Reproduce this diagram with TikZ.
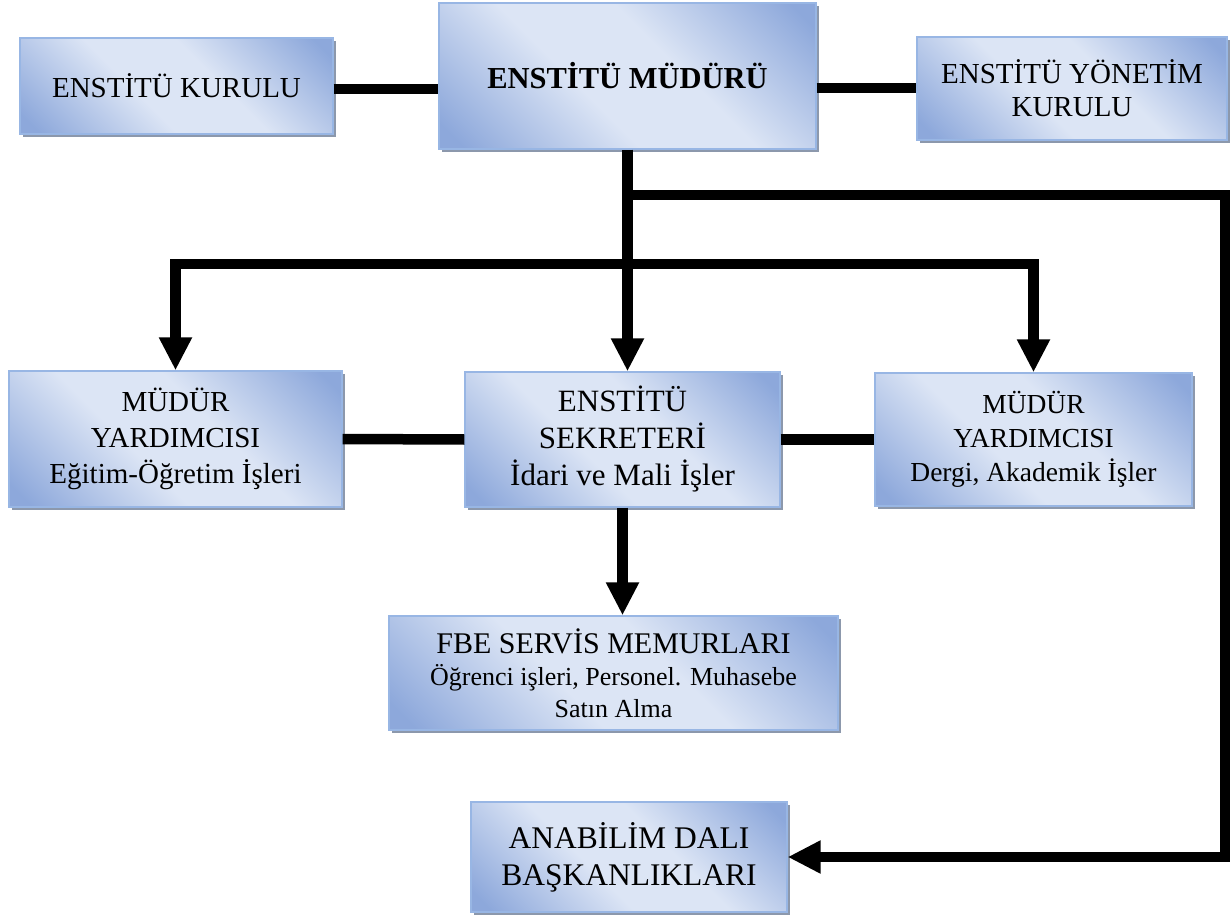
\documentclass[tikz,border=0pt]{standalone}
\usepackage{fontspec}
\setmainfont{Liberation Serif}
\usetikzlibrary{arrows.meta,shadows,calc}
\definecolor{dk}{RGB}{141,168,219}
\definecolor{lt}{RGB}{220,229,245}
\definecolor{bordc}{RGB}{152,182,228}
\definecolor{shadowc}{RGB}{140,152,172}
\pgfdeclareverticalshading{wordgrad}{100bp}{color(0bp)=(dk); color(18bp)=(dk); color(42bp)=(lt); color(58bp)=(lt); color(82bp)=(dk); color(100bp)=(dk)}
\newcommand{\fs}[2]{\fontsize{#1}{#2}\selectfont}
\begin{document}
\begin{tikzpicture}[x=1pt,y=-1pt,
  box/.style={draw=bordc, line width=1.3pt, shading=wordgrad, shading angle=-45,
    drop shadow={shadow xshift=3pt, shadow yshift=-3pt, fill=shadowc, opacity=1},
    align=center, inner sep=0pt, text=black},
  conn/.style={line width=10.5pt, black, line join=miter},
  arr/.style={-{Triangle[width=31pt,length=33pt]}},
  darr/.style={{Triangle[width=31pt,length=33pt]}-{Triangle[width=31pt,length=33pt]}}
]
\useasboundingbox (0,0) rectangle (1231,917);
% nodes
\node[box, minimum width=313pt, minimum height=96pt, font=\fs{29}{33}] (kurulu) at (176.5,86) {ENSTİTÜ KURULU};
\node[box, minimum width=377pt, minimum height=146pt, font=\fs{30.5}{34}\bfseries] (mudur) at (627.5,76) {ENSTİTÜ MÜDÜRÜ};
\node[box, minimum width=310pt, minimum height=103pt, font=\fs{29}{33}] (yonetim) at (1072,88.5) {ENSTİTÜ YÖNETİM\\KURULU};
\node[box, minimum width=333pt, minimum height=136pt, font=\fs{29}{36}] (yard1) at (175.5,439) {MÜDÜR\\YARDIMCISI\\Eğitim-Öğretim İşleri};
\node[box, minimum width=315pt, minimum height=135pt, font=\fs{31}{37}] (sekreter) at (622.5,439.5) {ENSTİTÜ\\SEKRETERİ\\İdari ve Mali İşler};
\node[box, minimum width=317pt, minimum height=133pt, font=\fs{27.5}{34}] (yard2) at (1033.5,439.5) {MÜDÜR\\YARDIMCISI\\Dergi, Akademik İşler};
\node[box, minimum width=449pt, minimum height=114pt, font=\fs{26}{32}] (fbe) at (613.5,673) {{\fs{30}{32}FBE SERVİS MEMURLARI}\\Öğrenci işleri, Personel. Muhasebe\\Satın Alma};
\node[box, minimum width=316pt, minimum height=110pt, font=\fs{31.5}{37}] (anabilim) at (629,857) {ANABİLİM DALI\\BAŞKANLIKLARI};
% coordinates
\coordinate (bar1) at (0,195);
\coordinate (bar2) at (0,264);
\coordinate (rightx) at (1225,0);
\coordinate (r1) at (rightx |- bar1);
% connectors
\draw[conn] (kurulu.east |- 0,89) -- (mudur.west |- 0,89);
\draw[conn] (mudur.east |- 0,88) -- (yonetim.west |- 0,88);
\draw[conn, arr] (mudur.south) -- (mudur.south |- sekreter.north);
\draw[conn, arr] (mudur.south |- bar1) -- (r1) |- (anabilim.east);
\draw[conn, darr] (yard1.north) -- (yard1.north |- bar2) -| (yard2.north);
\draw[conn] (yard1.east) -- (sekreter.west);
\draw[conn] (sekreter.east) -- (yard2.west);
\draw[conn, arr] (sekreter.south) -- (sekreter.south |- fbe.north);
\end{tikzpicture}
\end{document}
